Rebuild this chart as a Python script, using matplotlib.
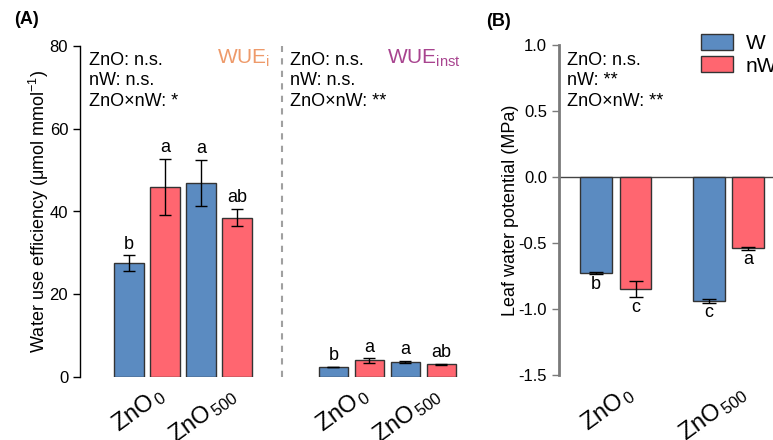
import matplotlib
matplotlib.use("Agg")
import matplotlib.pyplot as plt
import matplotlib.transforms as mtransforms
from matplotlib.patches import Patch
import numpy as np

plt.rcParams['font.family'] = ['Liberation Sans', 'DejaVu Sans']
plt.rcParams['mathtext.fontset'] = 'custom'
plt.rcParams['mathtext.rm'] = 'Liberation Sans'
plt.rcParams['mathtext.it'] = 'Liberation Sans:italic'
plt.rcParams['mathtext.bf'] = 'Liberation Sans:bold'

# ---- data ----
groups = ["ZnO$_{\\,0}$", "ZnO$_{\\,500}$"]
series = ["W", "nW"]
wuei_mean = [27.5, 46.0, 46.9, 38.5]        # W-ZnO0, nW-ZnO0, W-ZnO500, nW-ZnO500
wuei_err = [1.9, 6.8, 5.6, 2.1]
wuei_letters = ["b", "a", "a", "ab"]
wueinst_mean = [2.4, 4.0, 3.6, 3.1]
wueinst_err = [0.1, 0.5, 0.2, 0.15]
wueinst_letters = ["b", "a", "a", "ab"]
lwp_mean = [-0.725, -0.85, -0.935, -0.54]
lwp_err = [0.01, 0.06, 0.015, 0.01]
lwp_letters = ["b", "c", "c", "a"]
stats_wuei = "ZnO: n.s.\nnW: n.s.\nZnO×nW: *"
stats_wueinst = "ZnO: n.s.\nnW: n.s.\nZnO×nW: **"
stats_lwp = "ZnO: n.s.\nnW: **\nZnO×nW: **"

blue = "#5B8BC1"
red = "#FF6670"
cols = [blue, red, blue, red]
edge = "#333333"

W, H = 773, 440
fig = plt.figure(figsize=(W/100, H/100), dpi=100)

# ---------------- Panel A ----------------
axA = fig.add_axes([80/W, 1-377/H, 391/W, (377-46)/H])
xA1 = np.array([0, 1, 2, 3])
xA2 = xA1 + 5.68
bw = 0.82
axA.bar(xA1, wuei_mean, width=bw, color=cols, edgecolor=edge, linewidth=1, zorder=2)
axA.errorbar(xA1, wuei_mean, yerr=wuei_err, fmt='none', ecolor='black', elinewidth=1, capsize=4, capthick=1, zorder=3)
axA.bar(xA2, wueinst_mean, width=bw, color=cols, edgecolor=edge, linewidth=1, zorder=2)
axA.errorbar(xA2, wueinst_mean, yerr=wueinst_err, fmt='none', ecolor='black', elinewidth=1, capsize=4, capthick=1, zorder=3)
for x, m, e, l in zip(xA1, wuei_mean, wuei_err, wuei_letters):
    axA.annotate(l, (x, m+e), xytext=(0, 2), textcoords='offset points', ha='center', va='bottom', fontsize=13)
for x, m, e, l in zip(xA2, wueinst_mean, wueinst_err, wueinst_letters):
    axA.annotate(l, (x, m+e), xytext=(0, 2), textcoords='offset points', ha='center', va='bottom', fontsize=13)
axA.axvline(4.25, color='#a0a0a0', linestyle=(0, (3, 3)), linewidth=1.5)
axA.set_xlim(-1.36, 9.5)
axA.set_ylim(0, 80)
axA.set_yticks([0, 20, 40, 60, 80])
for s in ['top', 'right', 'bottom']:
    axA.spines[s].set_visible(False)
axA.spines['left'].set_linewidth(1)
axA.tick_params(axis='y', labelsize=12, length=5, width=1)
axA.set_xticks([0.5, 2.5, 0.5+5.68, 2.5+5.68])
axA.set_xticklabels(groups*2, rotation=36, ha='right', rotation_mode='anchor', fontsize=17)
axA.tick_params(axis='x', length=0, pad=4)
off = mtransforms.ScaledTranslation(8/100, 0, fig.dpi_scale_trans)
for lab in axA.get_xticklabels():
    lab.set_transform(lab.get_transform() + off)
axA.set_ylabel("Water use efficiency (μmol mmol$^{-1}$)", fontsize=13, labelpad=-1)

fig.text(89/W, 1-52/H, stats_wuei, fontsize=13, va='top', ha='left', linespacing=1.25)
fig.text(290/W, 1-52/H, stats_wueinst, fontsize=13, va='top', ha='left', linespacing=1.25)
fig.text(217/W, 1-58/H, "WUE$_{\\mathrm{i}}$", fontsize=15, color='#EE9A6A', va='center', ha='left')
fig.text(387/W, 1-58/H, "WUE$_{\\mathrm{inst}}$", fontsize=15, color='#A8448F', va='center', ha='left')
fig.text(14/W, 1-20/H, "(A)", fontsize=13, fontweight='bold', va='center', ha='left')

# ---------------- Panel B ----------------
axB = fig.add_axes([559/W, 1-375.3/H, 254/W, (375.3-45)/H])
xB = np.array([0, 1, 2.86, 3.86])
bwB = 0.81
axB.bar(xB, lwp_mean, width=bwB, color=cols, edgecolor=edge, linewidth=1, zorder=2)
axB.errorbar(xB, lwp_mean, yerr=lwp_err, fmt='none', ecolor='black', elinewidth=1, capsize=5, capthick=1, zorder=3)
for x, m, e, l in zip(xB, lwp_mean, lwp_err, lwp_letters):
    axB.annotate(l, (x, m-e), xytext=(0, -1), textcoords='offset points', ha='center', va='top', fontsize=13)
axB.axhline(0, color='#444444', linewidth=1, zorder=1)
axB.set_xlim(-0.94, 5.5)
axB.set_ylim(-1.5, 1.0)
axB.set_yticks([-1.5, -1.0, -0.5, 0.0, 0.5, 1.0])
axB.set_yticklabels(["-1.5", "-1.0", "-0.5", "0.0", "0.5", "1.0"])
for s in ['top', 'right', 'bottom']:
    axB.spines[s].set_visible(False)
axB.spines['left'].set_linewidth(2)
axB.spines['left'].set_color('#7a7a7a')
axB.tick_params(axis='y', labelsize=12, length=5, width=1, color='#7a7a7a')
axB.set_xticks([0.5, 3.36])
axB.set_xticklabels(groups, rotation=36, ha='right', rotation_mode='anchor', fontsize=17)
axB.tick_params(axis='x', length=0, pad=4)
for lab in axB.get_xticklabels():
    lab.set_transform(lab.get_transform() + off)
axB.set_ylabel("Leaf water potential (MPa)", fontsize=13, labelpad=0)

fig.text(567/W, 1-52/H, stats_lwp, fontsize=13, va='top', ha='left', linespacing=1.25)
fig.text(486/W, 1-22/H, "(B)", fontsize=13, fontweight='bold', va='center', ha='left')

handles = [Patch(facecolor=blue, edgecolor=edge, linewidth=1), Patch(facecolor=red, edgecolor=edge, linewidth=1)]
fig.legend(handles, series, loc='upper left', bbox_to_anchor=(701/W, 1-34/H), frameon=False,
           fontsize=15, handlelength=1.55, handleheight=0.8, handletextpad=0.6,
           labelspacing=0.15, borderpad=0, borderaxespad=0)

fig.savefig("out.png", dpi=100)
